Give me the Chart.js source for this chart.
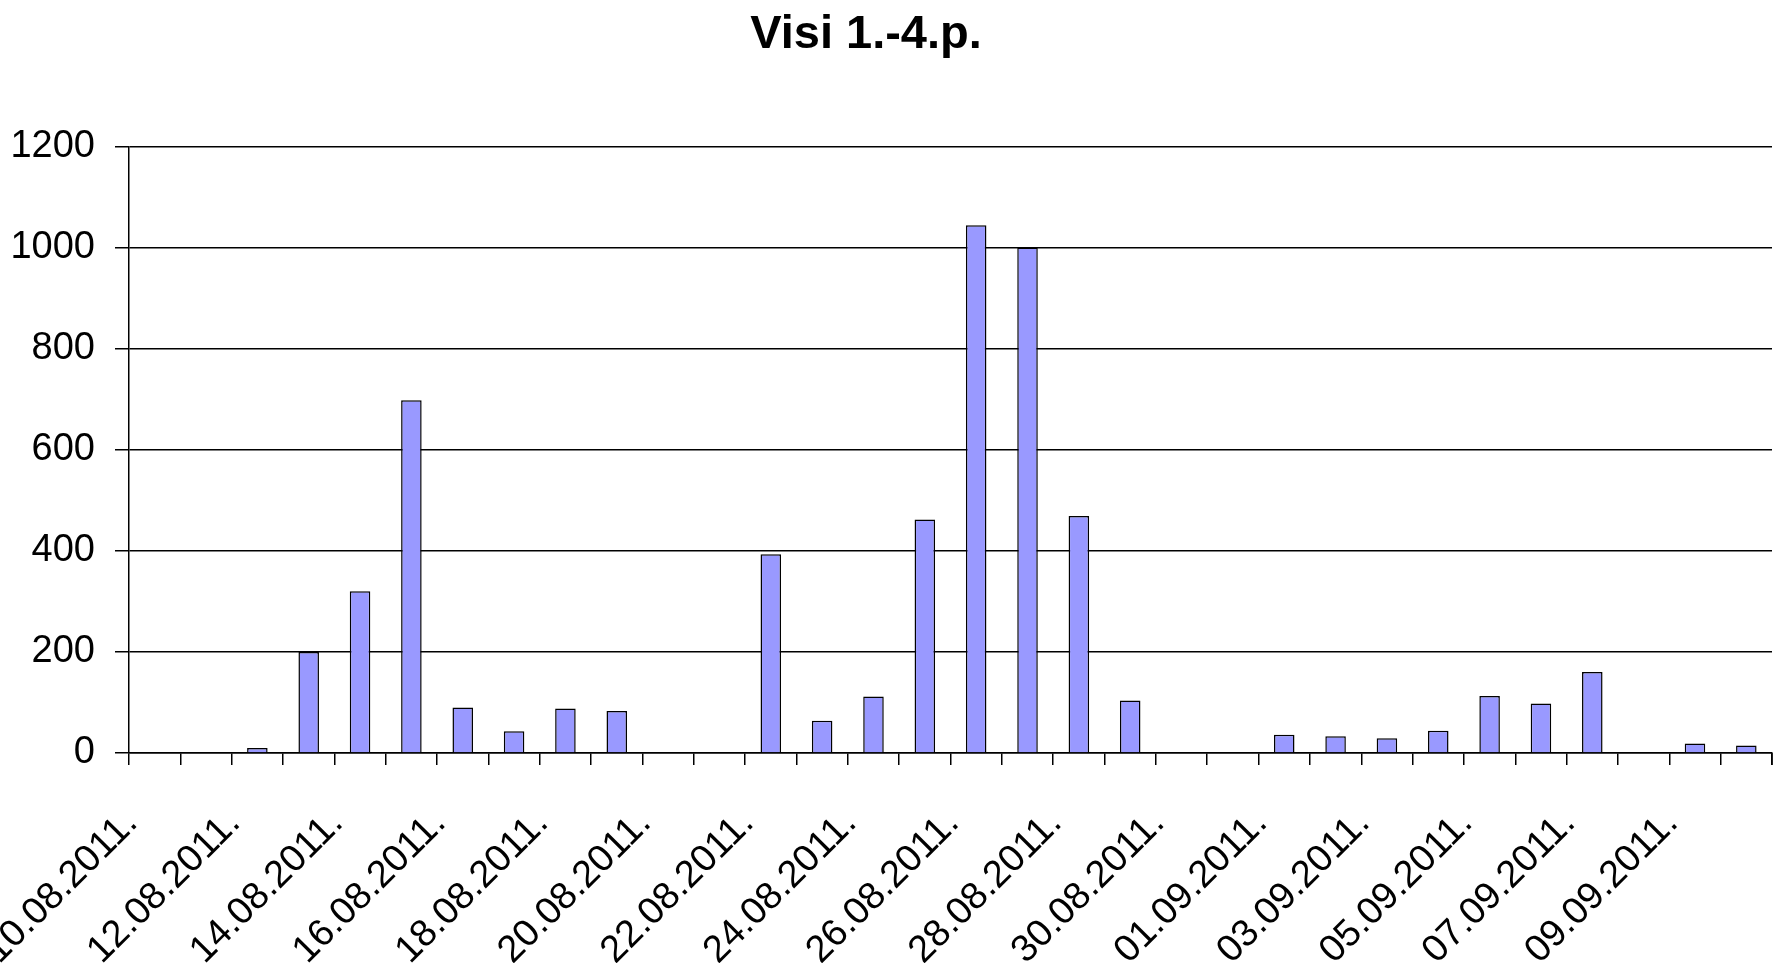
<!DOCTYPE html>
<html>
<head>
<meta charset="utf-8">
<script src="https://cdn.jsdelivr.net/npm/chart.js@4/dist/chart.umd.min.js"></script>
<style>
html,body{margin:0;padding:0;background:#fff;}
#wrap{width:1787px;height:963px;}
</style>
</head>
<body>
<div id="wrap"><canvas id="c" width="1787" height="963"></canvas></div>
<script>
const chartTitle = 'Visi 1.-4.p.';
const categories = [
  '10.08.2011.','11.08.2011.','12.08.2011.','13.08.2011.','14.08.2011.','15.08.2011.',
  '16.08.2011.','17.08.2011.','18.08.2011.','19.08.2011.','20.08.2011.','21.08.2011.',
  '22.08.2011.','23.08.2011.','24.08.2011.','25.08.2011.','26.08.2011.','27.08.2011.',
  '28.08.2011.','29.08.2011.','30.08.2011.','31.08.2011.','01.09.2011.','02.09.2011.',
  '03.09.2011.','04.09.2011.','05.09.2011.','06.09.2011.','07.09.2011.','08.09.2011.',
  '09.09.2011.','10.09.2011.'
];
const values = [
  0, 0, 10, 200, 320, 698,
  90, 43, 88, 83, 0, 0,
  393, 64, 112, 462, 1044, 1000,
  469, 104, 0, 0, 36, 33,
  29, 44, 113, 98, 160, 0,
  19, 15
];
const yTicks = [0, 200, 400, 600, 800, 1000, 1200];

const FONT = "'Liberation Sans', Arial, sans-serif";

const whiteBg = {
  id: 'whiteBg',
  beforeDraw(chart) {
    const ctx = chart.ctx;
    ctx.save();
    ctx.fillStyle = '#fff';
    ctx.fillRect(0, 0, chart.width, chart.height);
    ctx.restore();
  }
};

// centre the title a little left of the canvas middle, as in the original
const titleShift = {
  id: 'titleShift',
  afterLayout(chart) {
    const t = chart.titleBlock;
    if (t) { t.left = 0; t.right = 1732; t.width = 1732; }
  }
};

// closing tick mark at the right end of the category axis
const endTick = {
  id: 'endTick',
  afterDraw(chart) {
    const a = chart.chartArea, ctx = chart.ctx;
    ctx.save();
    ctx.strokeStyle = '#000';
    ctx.lineWidth = 1.5;
    ctx.beginPath();
    ctx.moveTo(a.right, a.bottom);
    ctx.lineTo(a.right, a.bottom + 12);
    ctx.stroke();
    ctx.restore();
  }
};

new Chart(document.getElementById('c'), {
  type: 'bar',
  data: {
    labels: categories,
    datasets: [{
      data: values,
      backgroundColor: '#9999FF',
      borderColor: '#000000',
      borderWidth: 1.5,
      barPercentage: 0.4,
      categoryPercentage: 1.0
    }]
  },
  options: {
    responsive: false,
    animation: false,
    layout: { padding: { left: 0, right: 15, top: 0, bottom: 0 } },
    plugins: {
      legend: { display: false },
      tooltip: { enabled: false },
      title: {
        display: true,
        text: chartTitle,
        color: '#000',
        font: { family: FONT, size: 47, weight: 'bold' },
        padding: { top: 7, bottom: 83 }
      }
    },
    scales: {
      x: {
        offset: true,
        grid: {
          display: true,
          drawOnChartArea: false,
          drawTicks: true,
          tickLength: 12,
          color: '#000',
          lineWidth: 1.5,
          offset: true
        },
        border: { display: true, color: '#000', width: 1.5 },
        ticks: {
          autoSkip: false,
          maxRotation: 45,
          minRotation: 45,
          padding: 36,
          labelOffset: -23,
          color: '#000',
          font: { family: FONT, size: 38 },
          callback: function(v, i) { return i % 2 === 0 ? categories[i] : ''; }
        },
        afterFit: function(scale) {
          scale.height = 963 - 753;
          scale.paddingLeft = 0;
          scale.paddingRight = 0;
        }
      },
      y: {
        min: 0,
        max: 1200,
        afterBuildTicks: function(scale) {
          scale.ticks = yTicks.map(v => ({ value: v }));
        },
        grid: {
          display: true,
          drawOnChartArea: true,
          drawTicks: true,
          tickLength: 14,
          color: '#000',
          lineWidth: 1.5
        },
        border: { display: true, color: '#000', width: 1.5 },
        ticks: {
          padding: 20,
          color: '#000',
          font: { family: FONT, size: 38 },
          callback: function(v) { return String(v); }
        },
        afterFit: function(scale) {
          scale.width = 129;
          scale.paddingTop = 0;
          scale.paddingBottom = 0;
        }
      }
    }
  },
  plugins: [whiteBg, titleShift, endTick]
});
</script>
</body>
</html>
